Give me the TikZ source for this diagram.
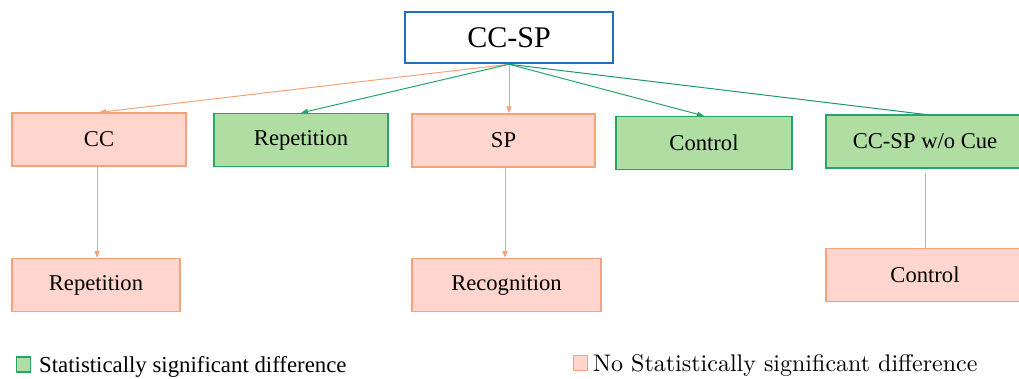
\documentclass[tikz,border=0pt]{standalone}
\usepackage{fontspec}
\setmainfont{Liberation Serif}
\newfontfamily\lmfont{lmroman10-regular}[Extension=.otf]
\usetikzlibrary{arrows.meta}
\usetikzlibrary{positioning}
\usepackage{xcolor}

\definecolor{pinkfill}{RGB}{255,213,205}
\definecolor{pinkline}{RGB}{247,162,120}
\definecolor{greenfill}{RGB}{176,222,162}
\definecolor{greenline}{RGB}{38,166,104}
\definecolor{tealline}{RGB}{30,150,118}
\definecolor{blueline}{RGB}{31,112,193}

\begin{document}
\begin{tikzpicture}[x=1pt,y=-1pt,
    box/.style={draw, line width=1.2pt, minimum width=#1, minimum height=53pt, inner sep=0pt, font=\fontsize{22.6}{26}\selectfont},
    nosig/.style={box=#1, fill=pinkfill, draw=pinkline},
    sig/.style={box=#1, fill=greenfill, draw=greenline},
    tip/.style={-{Triangle[length=7pt,width=5pt]}},
    legbox/.style={draw, line width=1.5pt, minimum width=14pt, minimum height=15pt, inner sep=0pt},
    legtext/.style={inner sep=0pt, anchor=base west, font=\fontsize{22.8}{26}\selectfont}]
      \clip (0,0) rectangle (1019,379);

      % Top
      \node[draw=blueline, line width=2.5pt, fill=white, minimum width=208pt, minimum height=51pt, inner sep=0pt, font=\fontsize{30}{36}\selectfont] (ccsp) at (509,37.5) {CC-SP};

      % Second row
      \node[nosig=174pt] (cc) at (99,139.5) {CC};
      \node[sig=174pt] (rep) at (301,140) {Repetition};
      \node[nosig=183pt] (sp) at (503.5,140.5) {SP};
      \node[sig=176pt] (ctrl) at (704,143) {Control};
      \node[sig=198pt] (nocue) at (925,141.5) {CC-SP w/o Cue};

      % Third row
      \node[nosig=168pt] (ccrep) at (96,285) {Repetition};
      \node[nosig=189pt] (sprec) at (506.5,285) {Recognition};
      \node[nosig=198pt] (nocuectrl) at (925,275) {Control};

      % Arrows
      \draw[tip, pinkline, line width=1pt] (ccsp.south) -- (cc.north);
      \draw[tip, greenline, line width=1pt] (ccsp.south) -- (rep.north);
      \draw[tip, pinkline, line width=1pt] (ccsp.south) -- (ccsp.south |- sp.north);
      \draw[tip, greenline, line width=1pt] (ccsp.south) -- (ctrl.north);
      \draw[tealline, line width=1pt] (ccsp.south) -- (nocue.north);
      \draw[tip, pinkline, line width=1pt] ([xshift=-2pt]cc.south) -- ([xshift=-2pt]cc.south |- ccrep.north);
      \draw[tip, pinkline, line width=1pt] ([xshift=1.5pt]sp.south) -- ([xshift=1.5pt]sp.south |- sprec.north);
      \draw[pinkline, line width=1pt] ([yshift=-4pt]nocue.south) -- (nocuectrl.north);

      % Legend
      \node[legbox, fill=greenfill, draw=greenline] (legsig) at (23.5,364.5) {};
      \node[legtext] (legsigtext) at (39,372.5) {Statistically significant difference};
      \node[legbox, fill=pinkfill, draw=pinkline] (legnosig) at (580.5,363) {};
      \node[legtext, font=\lmfont\fontsize{24}{28}\selectfont] (legnosigtext) at (593,371) {No Statistically significant difference};
  \end{tikzpicture}
\end{document}
